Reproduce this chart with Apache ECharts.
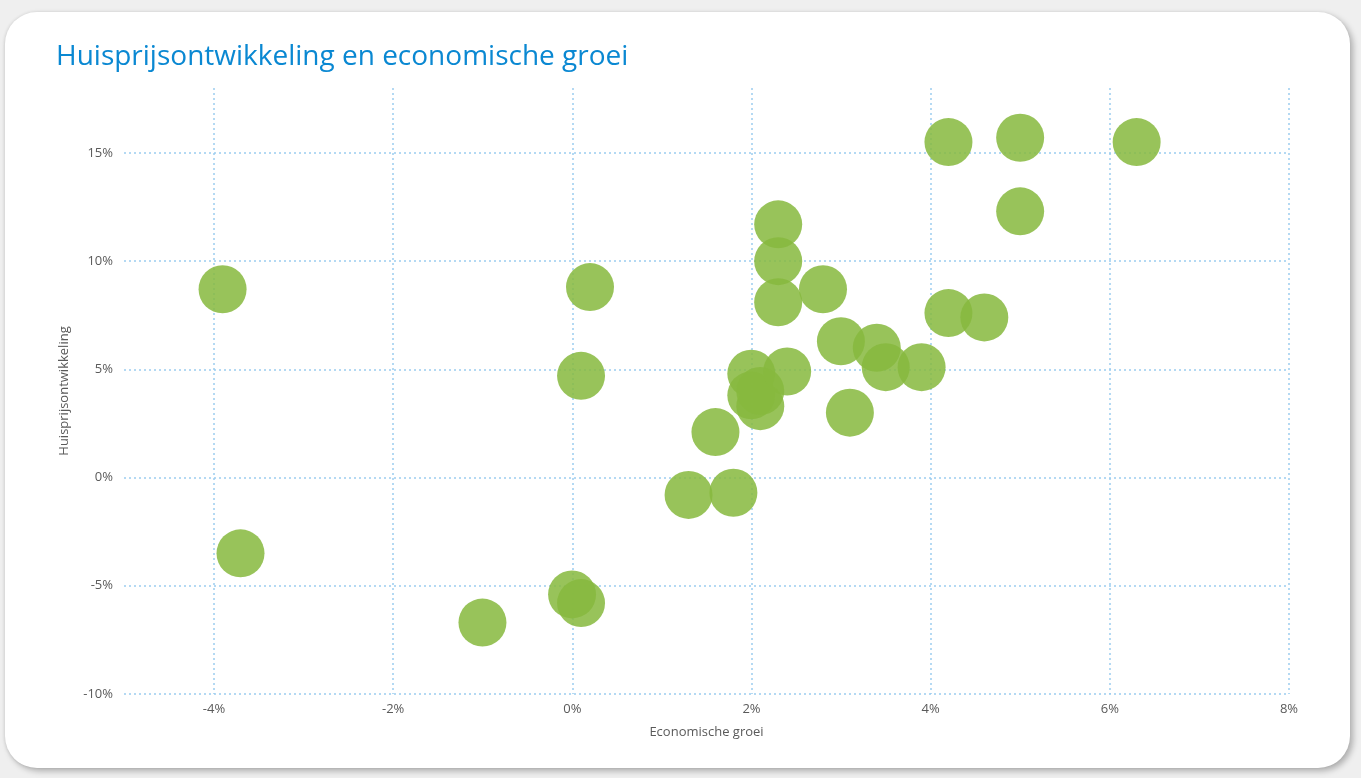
<!DOCTYPE html>
<html>
<head>
<meta charset="utf-8">
<script src="https://cdn.jsdelivr.net/npm/echarts@6/dist/echarts.min.js"></script>
<style>
  html, body { margin: 0; padding: 0; width: 1361px; height: 778px; background: #efefef; overflow: hidden; }
  #card {
    position: absolute; left: 5px; top: 12px; width: 1345px; height: 756px;
    background: #ffffff; border-radius: 32px;
    box-shadow: 3px 3px 6px rgba(0,0,0,0.28), -1px 0 3px rgba(0,0,0,0.08);
  }
  #chart { position: absolute; left: 0; top: 0; width: 1361px; height: 778px; }
</style>
</head>
<body>
<div id="card"></div>
<div id="chart"></div>
<script>
// Economic growth (%) per observation
const economischeGroei = [
  -3.9, -3.7, -1.0, 0.0, 0.1, 0.1, 0.2, 1.3, 1.8, 1.6,
  2.0, 2.0, 2.1, 2.1, 2.4, 2.3, 2.3, 2.3, 2.8, 3.0,
  3.1, 3.4, 3.5, 3.9, 4.2, 4.6, 4.2, 5.0, 5.0, 6.3
];
// House price development (%) for the same observations
const huisprijsontwikkeling = [
  8.7, -3.5, -6.7, -5.4, -5.8, 4.7, 8.8, -0.8, -0.7, 2.1,
  4.8, 3.8, 3.3, 4.0, 4.9, 11.7, 10.0, 8.1, 8.7, 6.3,
  3.0, 6.0, 5.1, 5.1, 7.6, 7.4, 15.5, 15.7, 12.3, 15.5
];
// Axis ticks
const xTicks = [-4, -2, 0, 2, 4, 6, 8];
const yTicks = [-10, -5, 0, 5, 10, 15];

const points = economischeGroei.map((x, i) => [x, huisprijsontwikkeling[i]]);

const gridColor = '#9ccdf0';
const labelColor = '#5a5a5a';
const font = '"Open Sans", "Noto Sans", sans-serif';

const chart = echarts.init(document.getElementById('chart'), null, { renderer: 'canvas' });
chart.setOption({
  backgroundColor: 'transparent',
  animation: false,
  title: {
    text: 'Huisprijsontwikkeling en economische groei',
    left: 51, top: 38,
    textStyle: { color: '#0a88d2', fontSize: 28, fontWeight: 'normal', fontFamily: font }
  },
  grid: [
    { left: 124, right: 72, top: 88, bottom: 84 },
    { left: 214, right: 72, top: 88, bottom: 84 }
  ],
  xAxis: [
    {
      gridIndex: 0, type: 'value', min: -5, max: 8,
      name: 'Economische groei', nameLocation: 'middle', nameGap: 32,
      nameTextStyle: { color: labelColor, fontSize: 13, fontFamily: font },
      axisLine: { show: false }, axisTick: { show: false },
      axisLabel: { show: false }, splitLine: { show: false }
    },
    {
      gridIndex: 1, type: 'value', min: xTicks[0], max: xTicks[xTicks.length - 1], interval: 2,
      axisLine: { show: false }, axisTick: { show: false },
      axisLabel: { color: labelColor, fontSize: 13, fontFamily: font, margin: 9,
        formatter: v => xTicks.includes(v) ? v + '%' : '' },
      splitLine: { show: true, lineStyle: { color: gridColor, type: [2, 3], width: 1.5 } }
    }
  ],
  yAxis: [
    {
      gridIndex: 0, type: 'value', min: yTicks[0], max: 18, interval: 5,
      name: 'Huisprijsontwikkeling', nameLocation: 'middle', nameGap: 53, nameRotate: 90,
      nameTextStyle: { color: labelColor, fontSize: 13, fontFamily: font },
      axisLine: { show: false }, axisTick: { show: false },
      axisLabel: { color: labelColor, fontSize: 13, fontFamily: font, margin: 11,
        formatter: v => yTicks.includes(v) ? v + '%' : '' },
      splitLine: { show: true, showMaxLine: false, lineStyle: { color: gridColor, type: [2, 3], width: 1.5 } }
    },
    {
      gridIndex: 1, type: 'value', min: yTicks[0], max: 18, show: false,
      splitLine: { show: false }
    }
  ],
  series: [{
    type: 'scatter',
    xAxisIndex: 0, yAxisIndex: 0,
    data: points,
    symbolSize: 48,
    itemStyle: { color: '#87b93f', opacity: 0.86 }
  }]
});
</script>
</body>
</html>
